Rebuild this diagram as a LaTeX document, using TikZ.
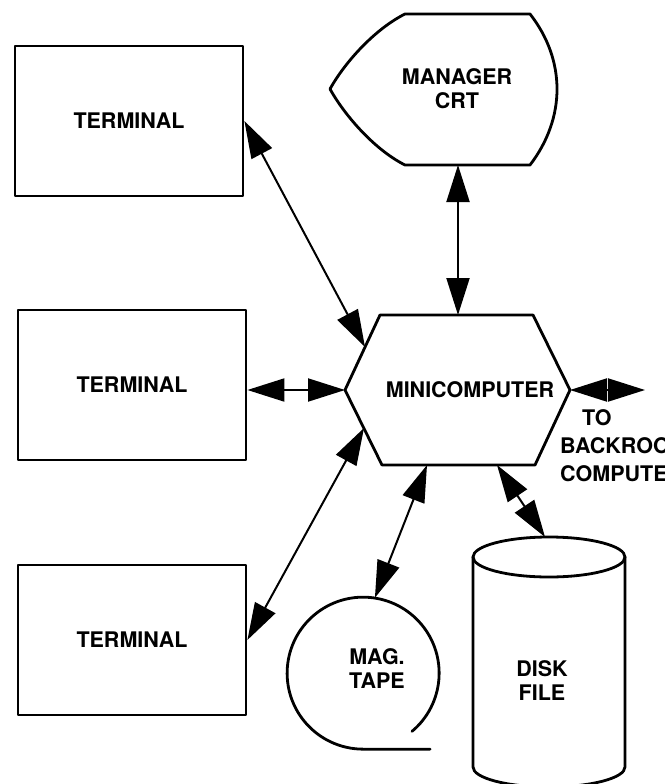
\documentclass[tikz,border=0pt]{standalone}
\usepackage{fontspec}
\setsansfont{TeX Gyre Heros}
\usepackage{tikz}
\usetikzlibrary{arrows.meta,calc}

\begin{document}
\begin{tikzpicture}[x=1pt,y=1pt,
  outline/.style={line width=2.8pt,line join=round,line cap=round},
  term/.style={draw,outline,minimum width=228pt,minimum height=150pt},
  lbl/.style={font=\fontsize{21.5}{24}\selectfont\sffamily\bfseries,align=center,inner sep=0pt},
  link/.style={{Triangle[length=37pt,width=23pt]}-{Triangle[length=37pt,width=23pt]},line width=2pt}]
  \useasboundingbox (0,0) rectangle (664,-784);
  \clip (0,0) rectangle (664,-784);

  \foreach \n/\x/\y in {1/129/-121,2/132/-385,3/132/-640}
    \node[term,lbl] (term\n) at (\x,\y) {TERMINAL};

  % minicomputer
  \draw[outline] (380,-315)--(533,-315)--(570,-390)--(535,-465)--(382,-465)--(345,-390)--cycle;
  \node[lbl] (mini) at (470,-390) {MINICOMPUTER};
  \coordinate (mc-nw) at (365,-347);
  \coordinate (mc-n) at (458,-315);
  \coordinate (mc-w) at (345,-390);
  \coordinate (mc-sw) at (364,-428);
  \coordinate (mc-s) at (427,-465);
  \coordinate (mc-se) at (497,-465);
  \coordinate (mc-e) at (570,-390);

  % manager crt
  \draw[outline] (330,-89) .. controls (345,-62) and (375,-29) .. (405,-14) -- (530,-14)
    .. controls (566,-60) and (566,-118) .. (530,-165) -- (405,-165)
    .. controls (375,-150) and (345,-116) .. (330,-89);
  \node[lbl] (crt) at (457,-89) {MANAGER\\CRT};
  \coordinate (crt-s) at (458,-165);

  % mag tape
  \node[circle,minimum size=152pt,inner sep=0pt] (tape) at (363,-673) {};
  \draw[outline] (tape.-50) arc[start angle=-50,end angle=270,radius=76pt] -- ++(67,0);
  \node[lbl] (tapetxt) at (377,-669) {MAG.\\TAPE};

  % disk file
  \coordinate (dk) at (549,-557);
  \draw[outline] (dk) ellipse[x radius=76pt,y radius=20pt];
  \draw[outline] ($(dk)+(-76,0)$) -- ++(0,-210)
    arc[start angle=180,end angle=360,x radius=76pt,y radius=20pt] -- ++(0,210);
  \node[lbl] (disk) at (542,-681) {DISK\\FILE};
  \coordinate (dk-n) at (545,-537);

  \coordinate (back) at (645,-390);
  \node[lbl,font=\fontsize{21.5}{28}\selectfont\sffamily\bfseries,align=left,anchor=north west]
    (backtxt) at (560,-409) {\hspace*{22pt}TO\\BACKROOM\\COMPUTER};

  \draw[link] (term1.east) -- (mc-nw);
  \draw[link] (term2.east |- mc-w) -- (mc-w);
  \draw[link] (term3.east) -- (mc-sw);
  \draw[link] (crt-s) -- (mc-n);
  \draw[link] (mc-s) -- (tape.81);
  \draw[link] (mc-se) -- (dk-n);
  \draw[link] (mc-e) -- (back);
\end{tikzpicture}
\end{document}
